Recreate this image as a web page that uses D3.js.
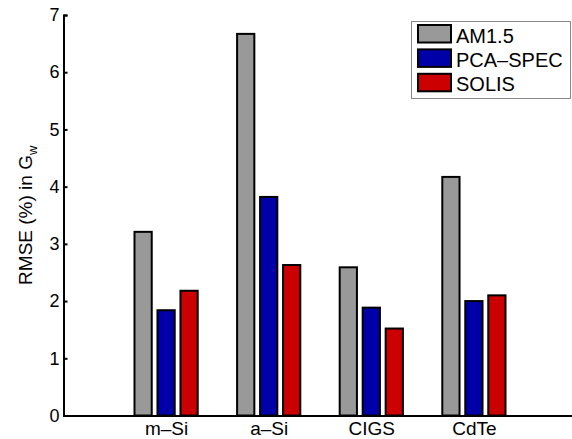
<!DOCTYPE html>
<html>
<head>
<meta charset="utf-8">
<script src="https://cdn.jsdelivr.net/npm/d3@7"></script>
<style>
  html, body { margin: 0; padding: 0; background: #fff; }
  svg { display: block; }
  text { font-family: "Liberation Sans", Arial, Helvetica, sans-serif; fill: #000; }
</style>
</head>
<body>
<script>
const categories = ["m\u2013Si", "a\u2013Si", "CIGS", "CdTe"];
const seriesNames = ["AM1.5", "PCA\u2013SPEC", "SOLIS"];
const am15 = [3.21, 6.67, 2.59, 4.17];
const pcaSpec = [1.84, 3.82, 1.885, 2.0];
const solis = [2.18, 2.63, 1.52, 2.10];
const yTicks = [0, 1, 2, 3, 4, 5, 6, 7];
const colors = ["#999999", "#0000a8", "#cc0000"];

const series = [am15, pcaSpec, solis];
const W = 572, H = 439;
const svg = d3.select("body").append("svg").attr("width", W).attr("height", H);

const x = d3.scaleLinear().domain([0, categories.length + 1]).range([63.5, 576.5]);
const y = d3.scaleLinear().domain([0, 7]).range([415.5, 15]);

const step = 0.224;   // spacing between bars in category units
const bw = 0.168;     // bar inner width in category units

// bars
series.forEach((vals, j) => {
  svg.append("g").selectAll("rect").data(vals).join("rect")
    .attr("x", (d, i) => x(i + 1 + (j - 1) * step - bw / 2))
    .attr("width", x(bw) - x(0))
    .attr("y", d => y(d))
    .attr("height", d => y(0) - y(d))
    .attr("fill", colors[j])
    .attr("stroke", "#000")
    .attr("stroke-width", 2);
});

// y axis
const yAxis = d3.axisLeft(y).tickValues(yTicks).tickSize(-4).tickPadding(4).tickFormat(d3.format("d"));
const gy = svg.append("g").attr("transform", `translate(${x(0)},0)`).call(yAxis);
gy.select(".domain").attr("stroke", "#000").attr("stroke-width", 2);
gy.selectAll(".tick line").attr("stroke", "#000").attr("stroke-width", 2);
gy.selectAll(".tick text").attr("font-size", 18).attr("font-family", "Liberation Sans, Arial, sans-serif").attr("fill", "#000");

// x axis
const xAxis = d3.axisBottom(x).tickValues(categories.map((c, i) => i + 1))
  .tickSize(0).tickPadding(6).tickFormat((d) => categories[d - 1]);
const gx = svg.append("g").attr("transform", `translate(0,${y(0)})`).call(xAxis);
gx.select(".domain").attr("stroke", "#000").attr("stroke-width", 2);
gx.selectAll(".tick text").attr("font-size", 19).attr("font-family", "Liberation Sans, Arial, sans-serif").attr("fill", "#000");

// y label
const yl = svg.append("text")
  .attr("transform", `translate(32,${(y(0) + y(7)) / 2}) rotate(-90)`)
  .attr("text-anchor", "middle")
  .attr("font-size", 19);
yl.append("tspan").text("RMSE (%) in G");
yl.append("tspan").attr("font-size", 13).attr("dy", 5).text("w");

// legend
const lg = svg.append("g");
lg.append("rect").attr("x", 411.5).attr("y", 21.5).attr("width", 159).attr("height", 77)
  .attr("fill", "#fff").attr("stroke", "#888").attr("stroke-width", 1);
seriesNames.forEach((name, j) => {
  const yy = 25 + j * 24.4;
  lg.append("rect").attr("x", 418).attr("y", yy).attr("width", 33).attr("height", 17.5)
    .attr("fill", colors[j]).attr("stroke", "#000").attr("stroke-width", 2);
  lg.append("text").attr("x", 456).attr("y", yy + 17.5).attr("font-size", 20).text(name);
});
</script>
</body>
</html>
